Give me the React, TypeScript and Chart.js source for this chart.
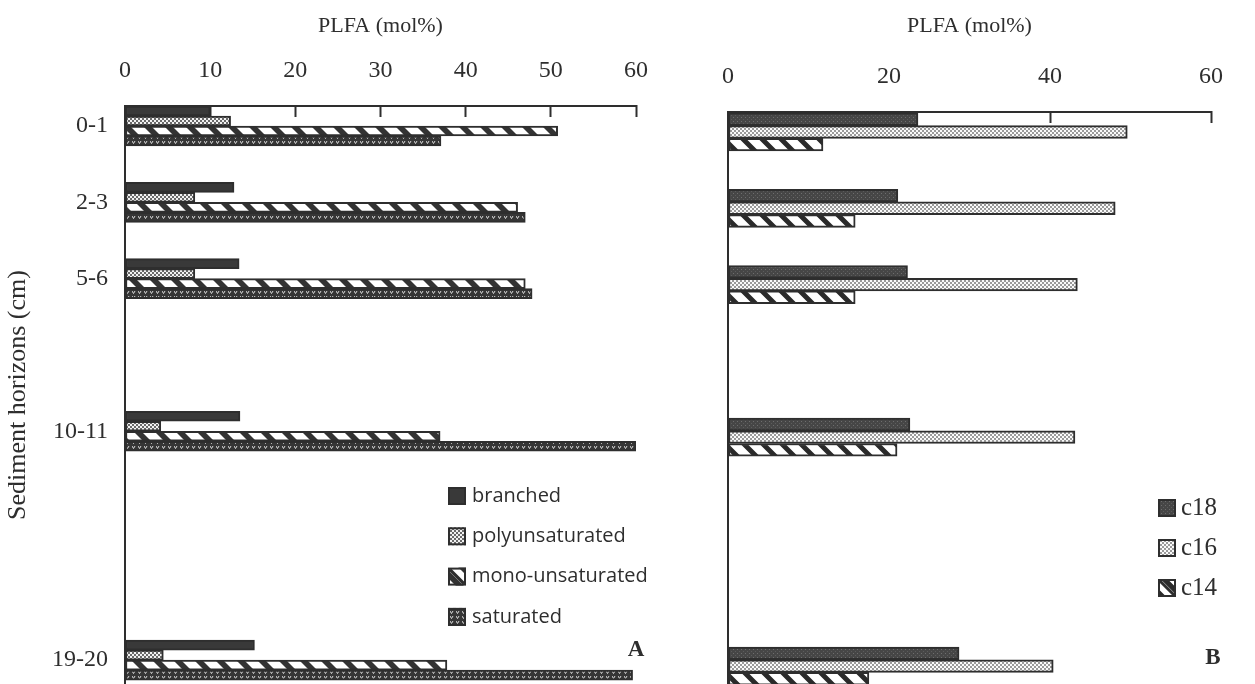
import React, { useEffect, useRef } from "react";
import { Chart, registerables } from "chart.js";

Chart.register(...registerables);

// ---------- data ----------
const horizons = ["0-1", "2-3", "5-6", "10-11", "19-20"];
// row of each horizon on the (gapped) depth axis
const horizonRows = [0, 1, 2, 4, 7];

const branched = [10.0, 12.8, 13.4, 13.5, 15.2];
const polyunsaturated = [12.4, 8.2, 8.2, 4.2, 4.5];
const monoUnsaturated = [50.8, 46.1, 47.0, 37.0, 37.8];
const saturated = [37.1, 47.0, 47.8, 60.0, 59.6];

const c18 = [23.6, 21.1, 22.3, 22.6, 28.7];
const c16 = [49.6, 48.1, 43.4, 43.1, 40.4];
const c14 = [11.8, 15.8, 15.8, 21.0, 17.5];

const xTicksA = [0, 10, 20, 30, 40, 50, 60];
const xTicksB = [0, 20, 40, 60];

const xTitle = "PLFA (mol%)";
const yTitle = "Sediment horizons (cm)";

// ---------- styling ----------
const INK = "#2e2e2e";
const SERIF = "'Liberation Serif', 'DejaVu Serif', serif";
const SANS = "'Open Sans', 'DejaVu Sans', sans-serif";

function pat(w: number, h: number, draw: (ctx: CanvasRenderingContext2D) => void): CanvasPattern {
  const c = document.createElement("canvas");
  c.width = w;
  c.height = h;
  const ctx = c.getContext("2d")!;
  draw(ctx);
  return ctx.createPattern(c, "repeat")!;
}

function stripes(period: number, band: number, bg: string, fg: string) {
  return pat(period, period, (ctx) => {
    ctx.fillStyle = bg;
    ctx.fillRect(0, 0, period, period);
    ctx.strokeStyle = fg;
    ctx.lineWidth = band / Math.SQRT2;
    ctx.beginPath();
    for (const k of [-2, -1, 0, 1, 2]) {
      ctx.moveTo(k * period - period, -period);
      ctx.lineTo(k * period + 2 * period, 2 * period);
    }
    ctx.stroke();
  });
}

function makePatterns() {
  const branchedFill = "#393939";
  const polyFill = pat(4, 4, (ctx) => {
    ctx.fillStyle = "#f2f2f2";
    ctx.fillRect(0, 0, 4, 4);
    ctx.fillStyle = "#6a6a6a";
    ctx.fillRect(0, 0, 2, 2);
    ctx.fillRect(2, 2, 2, 2);
  });
  const monoFill = stripes(21, 8, "#ffffff", "#333333");
  const satFill = pat(6, 5, (ctx) => {
    ctx.fillStyle = "#363636";
    ctx.fillRect(0, 0, 6, 5);
    ctx.strokeStyle = "#d8d8d8";
    ctx.lineWidth = 1;
    ctx.beginPath();
    ctx.moveTo(0, 1);
    ctx.lineTo(1.5, 3.5);
    ctx.lineTo(3, 1);
    ctx.stroke();
  });
  const c18Fill = pat(4, 4, (ctx) => {
    ctx.fillStyle = "#464646";
    ctx.fillRect(0, 0, 4, 4);
    ctx.fillStyle = "#6e6e6e";
    ctx.fillRect(1, 1, 1, 1);
    ctx.fillStyle = "#5c5c5c";
    ctx.fillRect(3, 3, 1, 1);
  });
  const c16Fill = pat(4, 4, (ctx) => {
    ctx.fillStyle = "#fafafa";
    ctx.fillRect(0, 0, 4, 4);
    ctx.fillStyle = "#9a9a9a";
    ctx.fillRect(0, 0, 2, 2);
    ctx.fillRect(2, 2, 2, 2);
  });
  const c14Fill = stripes(19, 7, "#ffffff", "#2a2a2a");
  return { branchedFill, polyFill, monoFill, satFill, c18Fill, c16Fill, c14Fill };
}

type LegendOpts = {
  x: number;
  y0: number;
  dy: number;
  box: number;
  gap: number;
  font: string;
  letter: string;
  letterX: number;
  letterY: number;
};

function insetLegend(o: LegendOpts) {
  return {
    id: "insetLegend",
    afterDraw(chart: any) {
      const ctx: CanvasRenderingContext2D = chart.ctx;
      ctx.save();
      chart.data.datasets.forEach((ds: any, i: number) => {
        const y = o.y0 + i * o.dy;
        ctx.fillStyle = ds.backgroundColor;
        ctx.fillRect(o.x, y - o.box / 2, o.box, o.box);
        ctx.strokeStyle = INK;
        ctx.lineWidth = 2;
        ctx.strokeRect(o.x + 1, y - o.box / 2 + 1, o.box - 2, o.box - 2);
        if (ds.legendDiag) {
          ctx.beginPath();
          ctx.moveTo(o.x + 2, y - o.box / 2 + 2);
          ctx.lineTo(o.x + o.box - 2, y + o.box / 2 - 2);
          ctx.lineWidth = 3;
          ctx.stroke();
        }
        ctx.fillStyle = INK;
        ctx.font = o.font;
        ctx.textBaseline = "middle";
        ctx.textAlign = "left";
        ctx.fillText(ds.label, o.x + o.box + o.gap, y);
      });
      ctx.font = `bold 23px ${SERIF}`;
      ctx.textAlign = "center";
      ctx.textBaseline = "middle";
      ctx.fillStyle = INK;
      ctx.fillText(o.letter, o.letterX, o.letterY);
      ctx.restore();
    },
  };
}

function rowsOf(values: number[]) {
  return values.map((v, i) => ({ x: v, y: horizonRows[i] }));
}

function baseOptions(p: {
  ticks: number[];
  yWidth: number;
  xHeight: number;
  padRight: number;
  yMax: number;
  showY: boolean;
}) {
  return {
    indexAxis: "y" as const,
    responsive: false,
    animation: false as const,
    layout: { padding: { left: 0, top: 0, right: p.padRight, bottom: 0 } },
    plugins: { legend: { display: false }, tooltip: { enabled: false } },
    scales: {
      x: {
        type: "linear" as const,
        position: "top" as const,
        min: 0,
        max: 60,
        afterBuildTicks: (s: any) => {
          s.ticks = p.ticks.map((v) => ({ value: v }));
        },
        afterFit: (s: any) => {
          s.height = p.xHeight;
        },
        grid: {
          display: true,
          drawOnChartArea: false,
          drawTicks: true,
          tickLength: -11,
          tickWidth: 2,
          tickColor: INK,
        },
        border: { display: true, color: INK, width: 2 },
        ticks: {
          color: INK,
          font: { family: SERIF, size: 24 },
          padding: 32,
          maxRotation: 0,
          autoSkip: false,
        },
        title: {
          display: true,
          text: xTitle,
          color: INK,
          font: { family: SERIF, size: 22 },
          padding: { top: 13, bottom: 0 },
        },
      },
      y: {
        type: "linear" as const,
        position: "left" as const,
        reverse: true,
        offset: false,
        min: -0.262,
        max: p.yMax,
        afterBuildTicks: (s: any) => {
          s.ticks = horizonRows.map((v) => ({ value: v }));
        },
        afterFit: (s: any) => {
          s.width = p.yWidth;
          s.paddingTop = 0;
          s.paddingBottom = 0;
        },
        grid: { display: false, drawTicks: false },
        border: { display: true, color: INK, width: 2 },
        ticks: {
          display: p.showY,
          color: INK,
          font: { family: SERIF, size: 24 },
          padding: 17,
          autoSkip: false,
          callback: (v: any) => {
            const i = horizonRows.indexOf(Number(v));
            return i >= 0 ? horizons[i] : "";
          },
        },
        title: {
          display: p.showY,
          text: yTitle,
          color: INK,
          font: { family: SERIF, size: 26 },
          padding: { top: 3, bottom: 0 },
        },
      },
    },
  };
}

export default function App() {
  const refA = useRef<HTMLCanvasElement | null>(null);
  const refB = useRef<HTMLCanvasElement | null>(null);

  useEffect(() => {
    const P = makePatterns();
    const barA = { barThickness: 10, borderColor: INK, borderWidth: 2, borderSkipped: false };
    const barB = { barThickness: 12.7, borderColor: INK, borderWidth: 2, borderSkipped: false };

    const chartA = new Chart(refA.current!, {
      type: "bar",
      data: {
        datasets: [
          { label: "branched", data: rowsOf(branched), backgroundColor: P.branchedFill, ...barA },
          { label: "polyunsaturated", data: rowsOf(polyunsaturated), backgroundColor: P.polyFill, ...barA },
          { label: "mono-unsaturated", data: rowsOf(monoUnsaturated), backgroundColor: P.monoFill, legendDiag: true, ...barA } as any,
          { label: "saturated", data: rowsOf(saturated), backgroundColor: P.satFill, ...barA },
        ],
      },
      options: baseOptions({ ticks: xTicksA, yWidth: 125, xHeight: 106, padRight: 34, yMax: 7.313, showY: true }) as any,
      plugins: [
        insetLegend({
          x: 448,
          y0: 496,
          dy: 40.3,
          box: 18,
          gap: 6,
          font: `20px ${SANS}`,
          letter: "A",
          letterX: 636,
          letterY: 650,
        }),
      ],
    });

    const chartB = new Chart(refB.current!, {
      type: "bar",
      data: {
        datasets: [
          { label: "c18", data: rowsOf(c18), backgroundColor: P.c18Fill, ...barB },
          { label: "c16", data: rowsOf(c16), backgroundColor: P.c16Fill, ...barB },
          { label: "c14", data: rowsOf(c14), backgroundColor: P.c14Fill, legendDiag: true, ...barB } as any,
        ],
      },
      options: baseOptions({ ticks: xTicksB, yWidth: 48, xHeight: 112, padRight: 15, yMax: 7.235, showY: false }) as any,
      plugins: [
        insetLegend({
          x: 478,
          y0: 508,
          dy: 40,
          box: 18,
          gap: 5,
          font: `25px ${SERIF}`,
          letter: "B",
          letterX: 533,
          letterY: 658,
        }),
      ],
    });

    return () => {
      chartA.destroy();
      chartB.destroy();
    };
  }, []);

  return (
    <div style={{ position: "fixed", left: 0, top: 0, width: 1255, height: 684, background: "#fff", overflow: "hidden" }}>
      <canvas ref={refA} width={680} height={684} style={{ position: "absolute", left: 0, top: 0, display: "block" }} />
      <canvas ref={refB} width={575} height={684} style={{ position: "absolute", left: 680, top: 0, display: "block" }} />
    </div>
  );
}
